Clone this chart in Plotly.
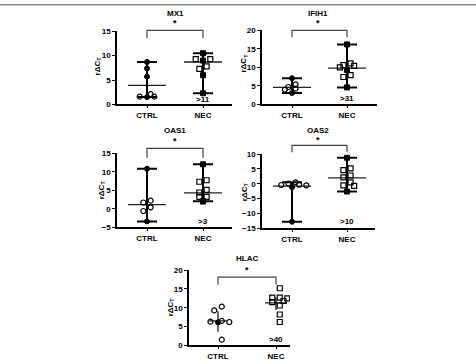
import plotly.graph_objects as go

W, H = 476, 362

# ---------------- data ----------------
genes = ["MX1", "IFIH1", "OAS1", "OAS2", "HLAC"]
groups = ["CTRL", "NEC"]

# filled-looking points (on the range line) and open points, per group
mx1_ctrl_filled = [8.7, 7.4, 5.7, 1.5]
mx1_ctrl_open = [2.1, 1.6, 1.6]
mx1_nec_filled = [10.5, 9.0, 6.0, 2.3]
mx1_nec_open = [9.3, 9.3, 7.8, 7.3]
mx1_medians = [3.9, 8.7]

ifih1_ctrl_filled = [7.1, 3.1]
ifih1_ctrl_open = [5.4, 4.7, 4.3, 4.0]
ifih1_nec_filled = [16.2, 9.3, 4.6]
ifih1_nec_open = [11.1, 10.6, 10.4, 10.0, 7.9, 7.4]
ifih1_medians = [4.6, 9.8]

oas1_ctrl_filled = [10.8, -3.4]
oas1_ctrl_open = [2.2, 1.7, 0.4, -0.6]
oas1_nec_filled = [12.0, 2.0, 2.0]
oas1_nec_open = [7.7, 7.3, 5.1, 4.4, 3.2, 3.2]
oas1_medians = [1.1, 4.3]

oas2_ctrl_filled = [-12.8, -1.1]
oas2_ctrl_open = [0.5, 0.1, -0.4, -0.5, -0.3]
oas2_nec_filled = [8.8, -2.6]
oas2_nec_open = [5.2, 4.6, 2.8, 2.2, 0.5, -0.5, -0.7]
oas2_medians = [-0.8, 2.0]

hlac_ctrl_filled = [6.1]
hlac_ctrl_open = [10.3, 9.3, 6.5, 6.3, 6.2, 1.5]
hlac_nec_filled = []
hlac_nec_open = [15.2, 12.7, 12.5, 12.7, 11.8, 11.5, 10.6, 8.2, 6.2]
hlac_medians = [6.5, 11.3]
hlac_iqr_low = [3.6, 9.4]
hlac_iqr_high = [9.1, 12.7]

extra_labels = [">11", ">31", ">3", ">10", ">40"]

y_ranges = [[0, 15], [0, 20], [-5, 15], [-15, 10], [0, 20]]
y_ticks = [[0, 5, 10, 15], [0, 5, 10, 15, 20], [-5, 0, 5, 10, 15],
           [-15, -10, -5, 0, 5, 10], [0, 5, 10, 15, 20]]

data = [
    (mx1_ctrl_filled, mx1_ctrl_open, mx1_nec_filled, mx1_nec_open, mx1_medians),
    (ifih1_ctrl_filled, ifih1_ctrl_open, ifih1_nec_filled, ifih1_nec_open, ifih1_medians),
    (oas1_ctrl_filled, oas1_ctrl_open, oas1_nec_filled, oas1_nec_open, oas1_medians),
    (oas2_ctrl_filled, oas2_ctrl_open, oas2_nec_filled, oas2_nec_open, oas2_medians),
    (hlac_ctrl_filled, hlac_ctrl_open, hlac_nec_filled, hlac_nec_open, hlac_medians),
]

# ---------------- layout geometry (pixels) ----------------
panels = [
    dict(x0=117, x1=232, ytop=28, ybot=103, c0=147, c1=203, title=(175, 10), star=(175, 19),
         br_top=27, br_bot=35, extra_y=98, ytitle=(98, 64)),
    dict(x0=262, x1=377, ytop=27, ybot=103, c0=292, c1=347, title=(318, 10), star=(318, 19),
         br_top=27, br_bot=34, extra_y=97, ytitle=(244, 60)),
    dict(x0=117, x1=232, ytop=153, ybot=229, c0=147, c1=203, title=(175, 130), star=(175, 141),
         br_top=148, br_bot=158, extra_y=223, ytitle=(102, 191)),
    dict(x0=262, x1=375, ytop=154, ybot=230, c0=292, c1=347, title=(318, 130), star=(318, 139),
         br_top=145, br_bot=152, extra_y=223, ytitle=(245, 192)),
    dict(x0=189, x1=290, ytop=273, ybot=350, c0=218, c1=276, title=(247, 261), star=(247, 273),
         br_top=280, br_bot=288, extra_y=344, ytitle=(171, 311)),
]

FONT = "Liberation Sans"

def px(x):
    return x / W

def py(y):
    return 1 - y / H


def swarm(filled, opened, ppu, ppu_x, step=0.065, msize=4.0):
    """deterministic spread of open markers around the category centre"""
    placed = [(0.0, v) for v in filled]
    out = []
    for v in sorted(opened, reverse=True):
        dx = 0.0
        for k in [1, -1, 2, -2, 3, -3, 4, -4]:
            dx = k * step
            ok = True
            for (ox, ov) in placed:
                ddx = (dx - ox) * ppu_x
                ddy = (v - ov) * ppu
                if (ddx * ddx + ddy * ddy) ** 0.5 < msize:
                    ok = False
                    break
            if ok:
                break
        placed.append((dx, v))
        out.append((dx, v))
    return out


def ann(x, y, text, size=8, xref="paper", angle=0):
    return dict(x=x, y=y, xref=xref, yref="paper", text=text, showarrow=False,
                xanchor="center", yanchor="middle", textangle=angle,
                font=dict(family=FONT, size=size, color="black"))


fig = go.Figure()
layout = {}
annotations = []
shapes = []

for i, (p, d) in enumerate(zip(panels, data)):
    ax = "" if i == 0 else str(i + 1)
    xa, ya = "x" + ax, "y" + ax
    sp = p["c1"] - p["c0"]
    xr = [-(p["c0"] - p["x0"]) / sp, 1 + (p["x1"] - p["c1"]) / sp]
    yr = y_ranges[i]
    ppu = (p["ybot"] - p["ytop"]) / (yr[1] - yr[0])

    layout["xaxis" + ax] = dict(
        domain=[px(p["x0"]), px(p["x1"])], range=xr, anchor=ya,
        tickvals=[0, 1], ticktext=groups, showgrid=False, zeroline=False,
        showline=True, linecolor="black", linewidth=1.5, ticks="outside", ticklen=2,
        tickcolor="black", tickwidth=1,
        tickfont=dict(family=FONT, size=8, color="black", weight="bold"), fixedrange=True)
    layout["yaxis" + ax] = dict(
        domain=[py(p["ybot"]), py(p["ytop"])], range=yr, anchor=xa,
        tickvals=y_ticks[i], showgrid=False, zeroline=False,
        showline=True, linecolor="black", linewidth=1.5, ticks="outside", ticklen=3,
        tickcolor="black", tickwidth=1,
        tickfont=dict(family=FONT, size=8, color="black", weight="bold"), fixedrange=True)

    cf, co, nf, no, med = d
    hlac = (i == 4)

    # error / range lines
    lx, lyv = [], []
    for g, (filled, opened) in enumerate([(cf, co), (nf, no)]):
        allv = filled + opened
        if hlac:
            lo, hi = hlac_iqr_low[g], hlac_iqr_high[g]
            mhw = (9 if g == 0 else 11) / sp
        else:
            lo, hi = min(allv), max(allv)
            mhw = 19 / sp
        chw = 10 / sp
        lx += [g, g, None]
        lyv += [lo, hi, None]
        if not hlac:
            lx += [g - chw, g + chw, None, g - chw, g + chw, None]
            lyv += [lo, lo, None, hi, hi, None]
        fig.add_trace(go.Scatter(x=[g - mhw, g + mhw], y=[med[g], med[g]], mode="lines",
                                 line=dict(color="#222", width=1.3 if not hlac else 1.2),
                                 xaxis=xa, yaxis=ya, showlegend=False, hoverinfo="skip"))
    fig.add_trace(go.Scatter(x=lx, y=lyv, mode="lines",
                             line=dict(color="black", width=2 if not hlac else 1.2),
                             xaxis=xa, yaxis=ya, showlegend=False, hoverinfo="skip"))

    # points
    for g, (filled, opened, sym) in enumerate([(cf, co, "circle"), (nf, no, "square")]):
        pts = swarm(filled, opened, ppu, sp)
        if filled:
            fig.add_trace(go.Scatter(
                x=[g] * len(filled), y=filled, mode="markers",
                marker=dict(symbol=sym, size=5, color="black", line=dict(color="black", width=1)),
                xaxis=xa, yaxis=ya, showlegend=False))
        fig.add_trace(go.Scatter(
            x=[g + dx for dx, _ in pts], y=[v for _, v in pts], mode="markers",
            marker=dict(symbol=sym + "-open", size=5, color="black", line=dict(width=1.2)),
            xaxis=xa, yaxis=ya, showlegend=False))

    # title, star, extra label, y title
    annotations.append(ann(px(p["title"][0]), py(p["title"][1]), "<b>" + genes[i] + "</b>"))
    annotations.append(ann(px(p["star"][0]), py(p["star"][1]), "<b>*</b>", size=9))
    annotations.append(ann(1, py(p["extra_y"]), "<b>" + extra_labels[i] + "</b>", xref=xa))
    annotations.append(ann(px(p["ytitle"][0]), py(p["ytitle"][1]),
                           "<b>rΔC<sub>T</sub></b>", angle=-90))
    # significance bracket
    shapes.append(dict(type="path", xref=xa, yref="paper",
                       path="M 0,%f L 0,%f L 1,%f L 1,%f" % (py(p["br_bot"]), py(p["br_top"]),
                                                            py(p["br_top"]), py(p["br_bot"])),
                       line=dict(color="#444", width=1.2)))

shapes.append(dict(type="line", xref="paper", yref="paper", x0=0, x1=1,
                   y0=py(0.8), y1=py(0.8), line=dict(color="#888", width=1.6)))

fig.update_layout(width=W, height=H, margin=dict(l=0, r=0, t=0, b=0),
                  paper_bgcolor="white", plot_bgcolor="white",
                  annotations=annotations, shapes=shapes, **layout)

fig.write_html("out.html")
